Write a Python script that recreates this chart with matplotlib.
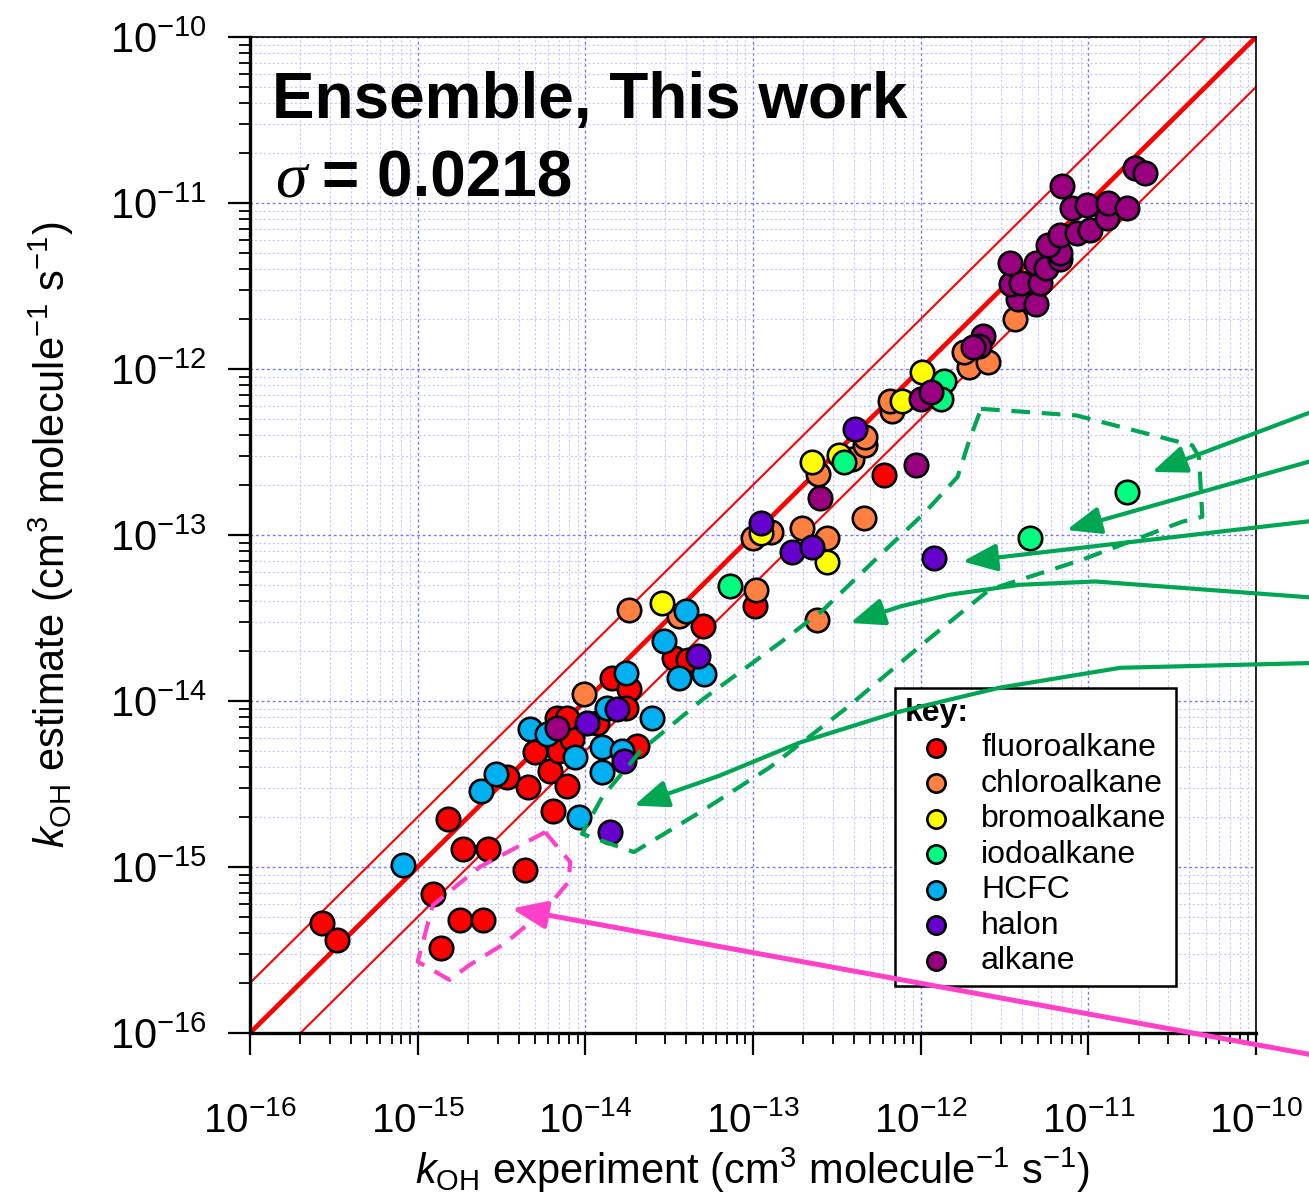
import numpy as np
import matplotlib
matplotlib.use("Agg")
import matplotlib.pyplot as plt

plt.rcParams['font.family'] = ['Liberation Sans', 'DejaVu Sans']
plt.rcParams['mathtext.fontset'] = 'custom'
plt.rcParams['mathtext.rm'] = 'Liberation Sans'
plt.rcParams['mathtext.it'] = 'Liberation Sans:italic'
plt.rcParams['mathtext.bf'] = 'Liberation Sans:bold'
plt.rcParams['axes.unicode_minus'] = False

# data: log10 of k_OH (experiment, estimate)
fluoro_x = [-15.57, -15.48, -14.91, -14.82, -14.73, -14.58, -14.36, -14.75, -14.61, -14.86,
            -14.47, -14.34, -14.30, -14.21, -14.16, -14.08, -14.11, -14.19, -14.17, -14.11,
            -13.93, -13.84, -13.74, -13.76, -13.69, -13.47, -13.39, -13.30, -12.99, -12.22]
fluoro_y = [-15.34, -15.44, -15.16, -14.71, -14.89, -14.89, -15.02, -15.32, -15.32, -15.49,
            -14.46, -14.52, -14.31, -14.42, -14.30, -14.23, -14.51, -14.66, -14.10, -14.10,
            -14.13, -13.86, -13.93, -14.04, -14.27, -13.74, -13.75, -13.55, -13.43, -12.64]

chloro_x = [-14.01, -13.74, -13.44, -12.98, -12.62, -13.00, -12.89, -12.71, -12.56, -12.34,
            -12.61, -12.41, -12.33, -12.33, -12.17, -12.18, -11.71, -11.74, -11.60, -11.44]
chloro_y = [-13.96, -13.45, -13.49, -13.33, -13.51, -13.02, -12.98, -12.96, -13.02, -12.90,
            -12.63, -12.54, -12.46, -12.41, -12.25, -12.19, -11.99, -11.90, -11.96, -11.70]

bromo_x = [-13.54, -12.95, -12.56, -12.65, -12.49, -12.11, -11.99]
bromo_y = [-13.41, -12.99, -13.16, -12.56, -12.52, -12.19, -12.02]

iodo_x = [-13.14, -12.46, -11.86, -11.88, -11.35, -10.77]
iodo_y = [-13.31, -12.56, -12.07, -12.18, -13.02, -12.74]

hcfc_x = [-15.09, -14.62, -14.53, -14.33, -14.23, -14.06, -14.04, -13.90, -13.78, -13.90,
          -13.87, -13.60, -13.76, -13.53, -13.40, -13.44, -13.29]
hcfc_y = [-14.99, -14.54, -14.44, -14.17, -14.20, -14.34, -14.70, -14.28, -14.30, -14.43,
          -14.04, -14.10, -13.83, -13.64, -13.46, -13.86, -13.84]

halon_x = [-13.85, -13.77, -13.99, -13.81, -13.33, -12.77, -12.65, -12.95, -12.39, -11.92]
halon_y = [-14.79, -14.36, -14.13, -14.05, -13.73, -13.10, -13.07, -12.93, -12.36, -13.14]

alkane_x = [-14.17, -12.60, -12.03, -12.00, -11.94, -11.63, -11.65, -11.69, -11.42, -11.31,
            -11.46, -11.40, -11.29, -11.47, -11.31, -11.25, -11.17, -11.17, -11.24, -11.17,
            -11.07, -10.99, -10.89, -11.10, -11.01, -10.88, -10.77, -11.16, -10.72, -10.66]
alkane_y = [-14.16, -12.78, -12.58, -12.18, -12.14, -11.80, -11.86, -11.87, -11.58, -11.61,
            -11.49, -11.48, -11.48, -11.36, -11.36, -11.39, -11.34, -11.30, -11.25, -11.19,
            -11.18, -11.16, -11.09, -11.03, -11.01, -11.00, -11.03, -10.90, -10.79, -10.82]

groups = ['fluoroalkane', 'chloroalkane', 'bromoalkane', 'iodoalkane', 'HCFC', 'halon', 'alkane']
colors = ['#FF0000', '#FF8040', '#FFFF00', '#00FF80', '#00B0F0', '#6600CC', '#990080']
xs = [fluoro_x, chloro_x, bromo_x, iodo_x, hcfc_x, halon_x, alkane_x]
ys = [fluoro_y, chloro_y, bromo_y, iodo_y, hcfc_y, halon_y, alkane_y]

band = 2.0
sigma = 0.0218

# hand drawn annotations (log10 coords)
green_box_x = [-11.64, -11.07, -10.38, -10.34, -10.32, -10.44, -11.04, -11.59, -11.98, -12.44,
               -12.90, -13.30, -13.71, -14.02, -13.90, -13.67, -13.30, -12.84, -12.58, -12.21,
               -11.98, -11.78, -11.71, -11.64]
green_box_y = [-12.24, -12.28, -12.46, -12.53, -12.89, -12.92, -13.15, -13.33, -13.65, -14.04,
               -14.40, -14.66, -14.91, -14.80, -14.58, -14.30, -13.99, -13.65, -13.45, -13.09,
               -12.87, -12.65, -12.43, -12.24]
pink_box_x = [-14.24, -14.09, -14.10, -14.24, -14.48, -14.69, -14.81, -15.00, -14.91, -14.63, -14.24]
pink_box_y = [-14.79, -14.97, -15.09, -15.26, -15.46, -15.59, -15.68, -15.57, -15.23, -15.00, -14.79]

green_arrows = [
    ([-9.62, -10.62], [-12.24, -12.62]),
    ([-9.62, -11.13], [-12.54, -12.97]),
    ([-9.62, -11.75], [-12.91, -13.16]),
    ([-9.62, -10.96, -11.41, -11.83, -12.12, -12.42], [-13.38, -13.28, -13.30, -13.36, -13.43, -13.53]),
    ([-9.62, -10.81, -11.53, -12.15, -12.72, -13.20, -13.71], [-13.77, -13.80, -13.92, -14.07, -14.25, -14.45, -14.63]),
]
pink_arrow = ([-9.62, -14.44], [-16.14, -15.25])

fig = plt.figure(figsize=(13.09, 12.04), dpi=100)
ax = fig.add_axes([250/1309, 171/1204, 1006/1309, 996/1204])
ax.set_xscale('log')
ax.set_yscale('log')
ax.set_xlim(1e-16, 1e-10)
ax.set_ylim(1e-16, 1e-10)

ax.grid(True, which='major', color='#7878FF', linestyle=(0, (2, 2)), lw=1.0, zorder=0)
ax.grid(True, which='minor', color='#C8C8FF', linestyle=(0, (2, 2)), lw=0.8, zorder=0)
ax.set_axisbelow(True)

line = np.array([1e-17, 1e-9])
ax.plot(line, line, color='red', lw=3.4, zorder=2)
ax.plot(line, line * band, color='red', lw=1.5, zorder=2)
ax.plot(line, line / band, color='red', lw=1.5, zorder=2)

handles = []
for name, c, x, y in zip(groups, colors, xs, ys):
    h = ax.scatter(10**np.array(x), 10**np.array(y), s=285, c=c, edgecolors='black',
                   linewidths=1.9, zorder=3, label=name)
    handles.append(h)

leg = ax.legend(handles=handles, title='key:', loc='upper left',
                bbox_to_anchor=(0.641, 0.346), fontsize=23, frameon=True, fancybox=False,
                edgecolor='black', framealpha=1, borderpad=0.3, handlelength=2.0,
                handletextpad=0.4, labelspacing=0.17, markerscale=0.78,
                title_fontproperties={'weight': 'bold', 'size': 23}, alignment='left',
                borderaxespad=0)
leg.get_frame().set_linewidth(1.8)
leg.set_zorder(4)

ax.text(0.022, 0.919, 'Ensemble, This work', transform=ax.transAxes, fontsize=46,
        fontweight='bold', zorder=6)
ax.text(0.025, 0.840, 'σ', transform=ax.transAxes, fontsize=46, family='Liberation Serif',
        style='italic', zorder=6)
ax.text(0.0716, 0.840, '= %.4f' % sigma, transform=ax.transAxes, fontsize=46,
        fontweight='bold', zorder=6)

dash = (0, (4.5, 2.8))
ax.plot(10**np.array(green_box_x), 10**np.array(green_box_y), color='#00A651', lw=3.0,
        linestyle=dash, clip_on=False, zorder=7)
ax.plot(10**np.array(pink_box_x), 10**np.array(pink_box_y), color='#FF40C8', lw=3.0,
        linestyle=dash, clip_on=False, zorder=7)

def draw_arrow(px, py, color, lw):
    px = 10**np.array(px)
    py = 10**np.array(py)
    if len(px) > 2:
        ax.plot(px[:-1], py[:-1], color=color, lw=lw, clip_on=False, zorder=8,
                solid_capstyle='butt')
    ax.annotate('', xy=(px[-1], py[-1]), xytext=(px[-2], py[-2]), annotation_clip=False,
                arrowprops=dict(arrowstyle='-|>,head_length=0.95,head_width=0.38',
                                mutation_scale=22, color=color, lw=lw,
                                shrinkA=0, shrinkB=0), zorder=8)

for gx, gy in green_arrows:
    draw_arrow(gx, gy, '#00A651', 3.0)
draw_arrow(pink_arrow[0], pink_arrow[1], '#FF40C8', 3.6)

for s in ['left', 'bottom']:
    ax.spines[s].set_linewidth(2.4)
for s in ['top', 'right']:
    ax.spines[s].set_linewidth(1.2)

ax.tick_params(which='major', direction='out', length=16, width=1.6)
ax.tick_params(which='minor', direction='out', length=8, width=1.3)
ax.tick_params(axis='x', which='major', labelsize=29, pad=33)
ax.tick_params(axis='y', which='major', labelsize=30, pad=15)

ax.set_xlabel(r'$k_{\mathrm{OH}}$ experiment (cm$^{3}$ molecule$^{-1}$ s$^{-1}$)',
              fontsize=30, labelpad=4)
ax.set_ylabel(r'$k_{\mathrm{OH}}$ estimate (cm$^{3}$ molecule$^{-1}$ s$^{-1}$)',
              fontsize=30, labelpad=24)

fig.savefig('out.png', dpi=100)
